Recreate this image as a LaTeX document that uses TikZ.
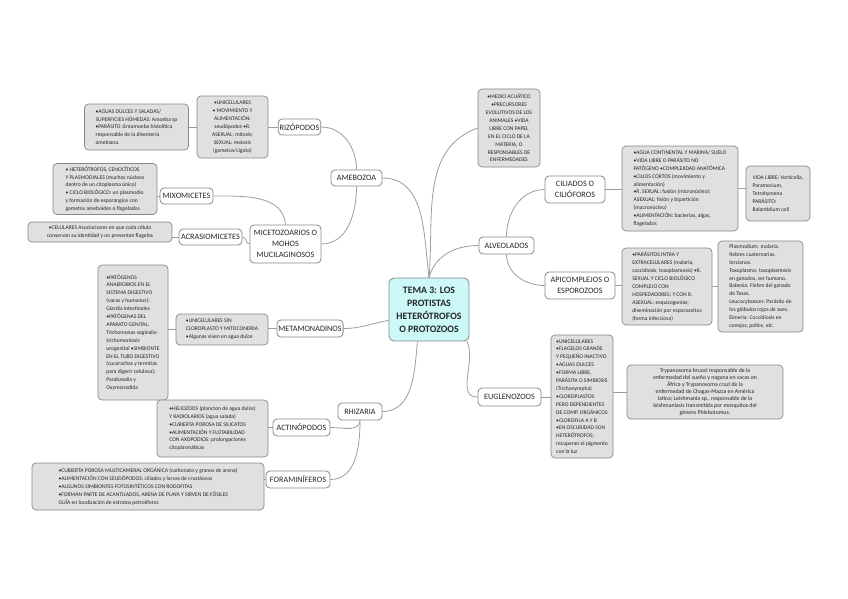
\documentclass[tikz,border=0pt]{standalone}
\usepackage{fontspec}
\setmainfont{Carlito}
\usetikzlibrary{backgrounds}
\definecolor{leaffill}{HTML}{E0E0E0}
\definecolor{boxgray}{HTML}{888888}
\definecolor{linegray}{HTML}{9C9C9C}
\definecolor{corefill}{HTML}{CCF8F8}
\definecolor{txt}{HTML}{262626}
\tikzset{
  sz/.style 2 args={minimum width=#1pt, minimum height=#2pt},
  leaf/.style={draw=boxgray, fill=leaffill, rounded corners=4pt, line width=0.7pt,
    inner sep=1.5pt, font=\fontsize{5.6}{7.9}\selectfont, text=txt},
  leafl/.style={leaf, align=left},
  leafc/.style={leaf, align=center},
  topic/.style={draw=boxgray, fill=white, rounded corners=4pt, line width=0.8pt,
    inner sep=1.5pt, align=center, font=\fontsize{8.2}{11}\selectfont, text=txt},
  core/.style={draw=boxgray, fill=corefill, rounded corners=5pt, line width=0.8pt,
    inner sep=2pt, align=center, font=\fontsize{9.8}{13}\selectfont\bfseries, text=txt},
  conn/.style={draw=linegray, line width=0.8pt}
}
\begin{document}
\begin{tikzpicture}[x=1pt,y=1pt]
\useasboundingbox (0,0) rectangle (848,-599);
% centre
\node[core, sz={80}{63}] (C) at (429,-309.5) {TEMA 3: LOS\\PROTISTAS\\HETERÓTROFOS\\O PROTOZOOS};
% AMEBOZOA branch
\node[topic, sz={51}{16}] (AME) at (356.5,-178) {AMEBOZOA};
\node[topic, sz={42}{16}] (RIZ) at (299.5,-127) {RIZÓPODOS};
\node[leafc, sz={71}{62}] (UNI) at (232.5,-127) {•UNICELULARES\\• MOVIMIENTO Y\\ALIMENTACIÓN:\\seudópodos •R.\\ASEXUAL: mitosis;\\SEXUAL: meiosis\\(gametos/cigoto)};
\node[leafl, sz={104}{46}] (AGU) at (136.5,-127) {•AGUAS DULCES Y SALADAS/\\SUPERFICIES HÚMEDAS: Amoeba sp\\•PARÁSITO :Entamoeba histolítica\\responsable de la disentería\\amebiana.};
\node[topic, sz={71}{38}] (MIC) at (285.5,-244) {MICETOZOARIOS O\\MOHOS\\MUCILAGINOSOS};
\node[topic, sz={53}{16}] (MIXO) at (186.5,-196) {MIXOMICETES};
\node[leafl, sz={104}{51}] (MIXT) at (105,-189) {• HETERÓTROFOS, CENOCÍTICOS\\Y PLASMODIALES (muchos núcleos\\dentro de un citoplasma único)\\• CICLO BIOLÓGICO: un plasmodio\\y formación de esporangios con\\gametos ameboides o flagelados};
\node[topic, sz={63}{16}] (ACR) at (210.5,-237) {ACRASIOMICETES};
\node[leafc, sz={144}{20}] (ACRT) at (100,-232) {•CELULARES Asociaciones en que cada célula\\conservan su identidad y no presentan flagelos};
% METAMONADINOS branch
\node[topic, sz={66}{17}] (META) at (310,-328.5) {METAMONADINOS};
\node[leafl, sz={92}{31}] (UNIS) at (222,-329.5) {•UNICELULARES SIN\\CLOROPLASTO Y MITOCONDRIA\\•Algunas viven en agua dulce};
\node[leafl, sz={70}{135}] (PAT) at (133,-332.5) {•PATÓGENOS\\ANAEROBIOS EN EL\\SISTEMA DIGESTIVO\\(vacas y humanos):\\Giardia intestinales\\•PATÓGENAS DEL\\APARATO GENITAL:\\Trichomonas vaginalis-\\trichomoniasis\\urogenital •SIMBIONTE\\EN EL TUBO DIGESTIVO\\(cucarachas y termitas\\para digerir celulosa):\\Parabasalia y\\Oxymonadida};
% RHIZARIA branch
\node[topic, sz={44}{17}] (RHI) at (360,-411.5) {RHIZARIA};
\node[topic, sz={57}{17}] (ACT) at (301.5,-427.5) {ACTINÓPODOS};
\node[leafl, sz={111}{57}] (ACTT) at (212.5,-428.5) {•HELIOZOOS (plancton de agua dulce)\\Y RADIOLARIOS (agua salada)\\•CUBIERTA POROSA DE SILICATOS\\•ALIMENTACIÓN Y FLOTABILIDAD\\CON AXOPODIOS: prolongaciones\\citoplasmáticas};
\node[topic, sz={64}{17}] (FOR) at (298,-479.5) {FORAMINÍFEROS};
\node[leafl, sz={232}{47}] (FORT) at (148,-486.5) {•CUBIERTA POROSA MULTICAMERAL ORGÁNICA (carbonato y granos de arena)\\•ALIMENTACIÓN CON SEUDÓPODOS: ciliados y larvas de crustáceos\\•ALGUNOS SIMBIONTES FOTOSINTÉTICOS CON RODOFITAS\\•FORMAN PARTE DE ACANTILADOS, ARENA DE PLAYA Y SIRVEN DE FÓSILES\\GUÍA en localización de estratos petrolíferos};
% top note
\node[leafc, sz={62}{78}] (MED) at (509,-128) {•MEDIO ACUÁTICO\\•PRECURSORES\\EVOLUTIVOS DE LOS\\ANIMALES •VIDA\\LIBRE CON PAPEL\\EN EL CICLO DE LA\\MATERIA, O\\RESPONSABLES DE\\ENFERMEDADES};
% ALVEOLADOS branch
\node[topic, sz={55}{17}] (ALV) at (506.5,-245.5) {ALVEOLADOS};
\node[topic, sz={60}{27}] (CIL) at (575,-189.5) {CILIADOS O\\CILIÓFOROS};
\node[leafl, sz={116}{85}] (CILT) at (680,-188.5) {•AGUA CONTINENTAL Y MARINA/ SUELO\\•VIDA LIBRE O PARÁSITO NO\\PATÓGENO •COMPLEJIDAD ANATÓMICA\\•CILIOS CORTOS (movimiento y\\alimentación)\\•R. SEXUAL: fusión (micronúcleo);\\ASEXUAL: fisión y bipartición\\(macronúcleo)\\•ALIMENTACIÓN: bacterias, algas,\\flagelados};
\node[leafl, sz={64}{55}] (VL) at (778,-193.5) {VIDA LIBRE: Vorticella,\\Paramecium,\\Tetrahymena\\PARÁSITO:\\Balantidium coli};
\node[topic, sz={70}{27}] (API) at (580,-285.5) {APICOMPLEJOS O\\ESPOROZOOS};
\node[leafl, sz={90}{77}] (APIT) at (667,-286.5) {•PARÁSITOS INTRA Y\\EXTRACELULARES (malaria,\\coccidiosis, toxoplasmosis) •R.\\SEXUAL Y CICLO BIOLÓGICO\\COMPLEJO CON\\HOSPEDADORES; Y CON R.\\ASEXUAL: esquizogonias;\\diseminación por esporozoitos\\(forma infecciosa)};
\node[leafl, sz={85}{91}] (PLA) at (760.5,-286.5) {Plasmodium: malaria,\\fiebres cuaternarias,\\tercianas.\\Toxoplasma: toxoplasmosis\\en ganados, ser humano.\\Babesia: Fiebre del ganado\\de Texas.\\Leucocytozoon: Parásito de\\los glóbulos rojos de aves.\\Eimeria: Coccidiosis en\\conejos, pollos, etc.};
% EUGLENOZOOS branch
\node[topic, sz={63}{18}] (EUG) at (509.5,-397) {EUGLENOZOOS};
\node[leafl, sz={62}{123}] (EUGT) at (582,-396.5) {•UNICELULARES\\•FLAGELOS GRANDE\\Y PEQUEÑO INACTIVO\\•AGUAS DULCES\\•FORMA LIBRE,\\PARÁSITA O SIMBIOSIS\\(Trichonympha)\\•CLOROPLASTOS\\PERO DEPENDIENTES\\DE COMP. ORGÁNICOS\\•CLOROFILA A Y B\\•EN OSCURIDAD SON\\HETERÓTROFOS;\\recuperan el pigmento\\con la luz};
\node[leafc, sz={156}{54}, font=\fontsize{5.8}{7.1}\selectfont] (TRY) at (705,-392) {Trypanosoma brucei responsable de la\\enfermedad del sueño y nagana en vacas en\\África y Trypanosoma cruzi de la\\enfermedad de Chagas-Mazza en América\\latina; Leishmania sp., responsable de la\\leishmaniasis transmitida por mosquitos del\\género Phlebotomus.};
% connectors
\begin{scope}[on background layer]
\draw[conn] (C.north) to[out=97,in=0] (AME.east);
\draw[conn] (C.north) to[out=85,in=200] (MED.west);
\draw[conn] (C.north) to[out=75,in=180] (ALV.west);
\draw[conn] (C.195) to[out=190,in=0] (META.east);
\draw[conn] (C.250) to[out=-95,in=0] (RHI.east);
\draw[conn] (C.-40) to[out=-65,in=180] (EUG.west);
\draw[conn] (AME.north) to[out=90,in=0] (RIZ.east);
\draw[conn] (AME.south) to[out=-90,in=0] (MIC.east);
\draw[conn] (MIC.north) to[out=95,in=0] (MIXO.east);
\draw[conn] (MIC.west) to[out=180,in=0] (ACR.east);
\draw[conn] (ALV.north) to[out=90,in=180] (CIL.west);
\draw[conn] (ALV.south) to[out=-90,in=180] (API.west);
\draw[conn] (RHI.south) to[out=-90,in=0] (ACT.east);
\draw[conn] (RHI.south) to[out=-90,in=0] (FOR.east);
\draw[conn] (RIZ.west) -- (UNI.east |- RIZ.west);
\draw[conn] (UNI.west) -- (AGU.east |- UNI.west);
\draw[conn] (MIXO.west) -- (MIXT.east |- MIXO.west);
\draw[conn] (ACR.west) -- (ACRT.east |- ACR.west);
\draw[conn] (META.west) -- (UNIS.east |- META.west);
\draw[conn] (UNIS.west) -- (PAT.east |- UNIS.west);
\draw[conn] (ACT.west) -- (ACTT.east |- ACT.west);
\draw[conn] (FOR.west) -- (FORT.east |- FOR.west);
\draw[conn] (CIL.east) -- (CILT.west |- CIL.east);
\draw[conn] (CILT.east) -- (VL.west |- CILT.east);
\draw[conn] (API.east) -- (APIT.west |- API.east);
\draw[conn] (APIT.east) -- (PLA.west |- APIT.east);
\draw[conn] (EUG.east) -- (EUGT.west |- EUG.east);
\draw[conn] (EUGT.east |- TRY.west) -- (TRY.west);
\end{scope}
\end{tikzpicture}
\end{document}
